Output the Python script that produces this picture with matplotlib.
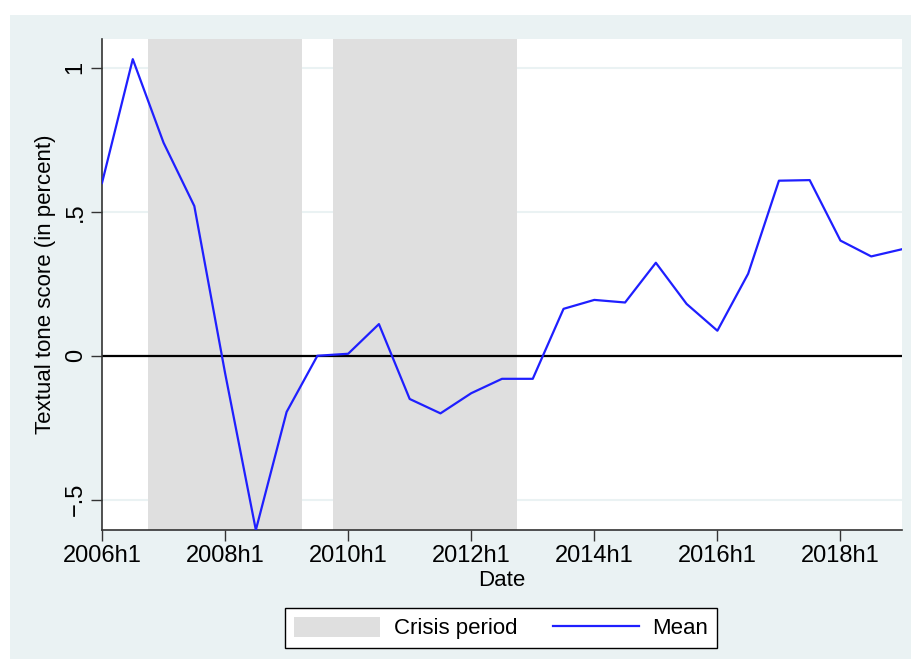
import matplotlib
matplotlib.use("Agg")
import matplotlib.pyplot as plt
from matplotlib.patches import Rectangle, Patch
from matplotlib.lines import Line2D

plt.rcParams['font.family'] = ['Liberation Sans', 'DejaVu Sans']

# half-year periods, 2006h1 .. 2019h1
periods = [f"{y}h{h}" for y in range(2006, 2020) for h in (1, 2)][:27]
tone_mean = [0.60, 1.03, 0.74, 0.52, -0.06, -0.605, -0.195, 0.0, 0.007, 0.11,
             -0.15, -0.20, -0.13, -0.08, -0.08, 0.163, 0.194, 0.185, 0.323, 0.18,
             0.087, 0.285, 0.608, 0.61, 0.40, 0.345, 0.37]
# crisis periods (first and last half-year, inclusive)
crisis = [("2007h1", "2009h1"), ("2010h1", "2012h2")]
xtick_labels = ["2006h1", "2008h1", "2010h1", "2012h1", "2014h1", "2016h1", "2018h1"]
ytick_vals = [-0.5, 0, 0.5, 1]
ytick_labels = ["\u2212.5", "0", ".5", "1"]

bg = '#eaf2f3'
W, H = 911, 659
fig = plt.figure(figsize=(W / 100, H / 100), dpi=100, facecolor='white')
fig.patches.append(Rectangle((10 / W, 0), 1, 1 - 15 / H, transform=fig.transFigure,
                             facecolor=bg, edgecolor='none', zorder=-5))

ax = fig.add_axes([102 / W, 1 - 530 / H, 800 / W, 491 / H])
ax.set_facecolor('white')

x = list(range(len(periods)))
for a, b in crisis:
    ax.axvspan(periods.index(a) - 0.5, periods.index(b) + 0.5, color='#dfdfdf', lw=0, zorder=1)

for v in ytick_vals:
    ax.axhline(v, color=bg, lw=1.5, zorder=0.5)
ax.axhline(0, color='black', lw=1.6, zorder=2)
ax.plot(x, tone_mean, color='#1f1fff', lw=1.6, zorder=3)

ax.set_xlim(0, 26)
ax.set_ylim(-0.605, 1.10)
ax.set_xticks([periods.index(p) for p in xtick_labels])
ax.set_xticklabels(xtick_labels, fontsize=17)
ax.set_yticks(ytick_vals)
ax.set_yticklabels(ytick_labels, fontsize=17, rotation=90, va='center')
ax.tick_params(length=8, width=1, color='#333333', pad=3)
for s in ['top', 'right']:
    ax.spines[s].set_visible(False)
for s in ['left', 'bottom']:
    ax.spines[s].set_color('#333333')
    ax.spines[s].set_linewidth(1.2)

ax.set_xlabel('Date', fontsize=16, labelpad=2)
ax.set_ylabel('Textual tone score (in percent)', fontsize=16, labelpad=6)

handles = [Patch(facecolor='#dfdfdf', edgecolor='none', label='Crisis period'),
           Line2D([], [], color='#1f1fff', lw=1.6, label='Mean')]
leg = fig.legend(handles=handles, loc='center', bbox_to_anchor=(501 / W, 1 - 628 / H),
                 ncol=2, fontsize=16, frameon=True, fancybox=False, edgecolor='black',
                 facecolor='white', framealpha=1,
                 handlelength=3.9, handleheight=1.0, columnspacing=1.6,
                 handletextpad=0.6, borderpad=0.4)
leg.get_frame().set_linewidth(1.0)

fig.savefig('out.png', dpi=100, facecolor=fig.get_facecolor())
